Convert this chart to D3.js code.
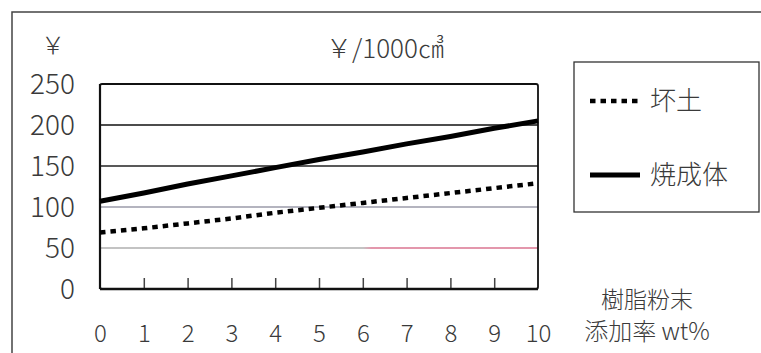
<!DOCTYPE html>
<html><head><meta charset="utf-8">
<script src="https://cdn.jsdelivr.net/npm/d3@7"></script>
<style>
html,body{margin:0;padding:0;background:#fff;}
text{font-family:"Noto Sans CJK JP","Noto Sans",sans-serif;fill:#3a3a3a;font-weight:300;}
</style></head>
<body><svg id="c" width="761" height="353"></svg>
<script>
const xValues = [0,1,2,3,4,5,6,7,8,9,10];
const kaido = [69,74,80,86,93,99,105,111,117,123,129];      // 坏土
const shoseitai = [107,117,128,138,148,158,167,177,186,196,205]; // 焼成体
const yTicks = [0,50,100,150,200,250];
const seriesNames = ["坏土","焼成体"];
const titleText = "￥/1000㎤";
const yUnit = "￥";
const xLabel1 = "樹脂粉末";
const xLabel2 = "添加率 wt%";

const svg = d3.select("#c");
const x = d3.scaleLinear().domain([0,10]).range([100,538]);
const y = d3.scaleLinear().domain([0,250]).range([289,84]);

// outer frame
svg.append("path").attr("d","M12,353 L12,12 L761,12").attr("fill","none").attr("stroke","#444").attr("stroke-width",1.5);

// gradient for 50 line
const defs = svg.append("defs");
const g50 = defs.append("linearGradient").attr("id","g50").attr("gradientUnits","userSpaceOnUse")
  .attr("x1",x(0)).attr("x2",x(10)).attr("y1",0).attr("y2",0);
g50.append("stop").attr("offset","0.6").attr("stop-color","#888");
g50.append("stop").attr("offset","0.62").attr("stop-color","#c8305a");

// gridlines
const gridStyle = {50:{c:"url(#g50)",w:1.2},100:{c:"#6a6a80",w:1.2},150:{c:"#222",w:1.4},200:{c:"#111",w:1.5}};
svg.append("g").selectAll("line").data(yTicks.filter(d=>d>0&&d<250)).join("line")
  .attr("x1",x(0)).attr("x2",x(10)).attr("y1",d=>y(d)).attr("y2",d=>y(d))
  .attr("stroke",d=>gridStyle[d].c).attr("stroke-width",d=>gridStyle[d].w);

// inner ticks
svg.append("g").attr("transform",`translate(0,${y(0)})`)
  .call(d3.axisBottom(x).tickValues(xValues.slice(1,10)).tickSize(-11).tickFormat(""))
  .call(g=>g.select(".domain").remove())
  .call(g=>g.selectAll("line").attr("stroke","#444").attr("stroke-width",1.5));

// plot box
svg.append("rect").attr("x",x(0)).attr("y",y(250)).attr("width",x(10)-x(0)).attr("height",y(0)-y(250))
  .attr("rx",2).attr("fill","none").attr("stroke","#111").attr("stroke-width",1.8);
svg.append("line").attr("x1",x(0)).attr("x2",x(10)).attr("y1",y(0)).attr("y2",y(0)).attr("stroke","#111").attr("stroke-width",2.6);
svg.append("line").attr("x1",x(0)).attr("x2",x(0)).attr("y1",y(250)).attr("y2",y(0)).attr("stroke","#111").attr("stroke-width",2.2);

// y axis labels
svg.append("g").attr("transform",`translate(${x(0)},0)`)
  .call(d3.axisLeft(y).tickValues(yTicks).tickSize(0).tickPadding(25))
  .call(g=>g.select(".domain").remove())
  .call(g=>g.selectAll("text").attr("font-size",28).attr("font-family",'"Noto Sans CJK JP",sans-serif').attr("font-weight",300).attr("fill","#3a3a3a").attr("dy","0.35em"));

// x axis labels
svg.append("g").attr("transform",`translate(0,${y(0)})`)
  .call(d3.axisBottom(x).tickValues(xValues).tickSize(0).tickPadding(0))
  .call(g=>g.select(".domain").remove())
  .call(g=>g.selectAll("text").attr("y",45).attr("dy","0.35em").attr("font-size",24).attr("font-family",'"Noto Sans CJK JP",sans-serif').attr("font-weight",300).attr("fill","#3a3a3a"));

// lines
const line = d3.line().x((d,i)=>x(xValues[i])).y(d=>y(d));
svg.append("path").datum(kaido).attr("d",line).attr("fill","none").attr("stroke","#000")
  .attr("stroke-width",4.5).attr("stroke-dasharray","5.5,5");
svg.append("path").datum(shoseitai).attr("d",line).attr("fill","none").attr("stroke","#000")
  .attr("stroke-width",5);

// texts
svg.append("text").attr("x",53).attr("y",46).attr("dy","0.35em").attr("text-anchor","middle").attr("font-size",24).text(yUnit);
svg.append("text").attr("x",385).attr("y",49).attr("dy","0.35em").attr("text-anchor","middle").attr("font-size",26).text(titleText);
svg.append("text").attr("x",647).attr("y",300).attr("dy","0.35em").attr("text-anchor","middle").attr("font-size",23).text(xLabel1);
svg.append("text").attr("x",647).attr("y",332).attr("dy","0.35em").attr("text-anchor","middle").attr("font-size",24).text(xLabel2);

// legend
svg.append("rect").attr("x",574).attr("y",62).attr("width",185).attr("height",150).attr("fill","#fff").attr("stroke","#333").attr("stroke-width",1.3);
const leg = svg.append("g");
const legY = [101,175];
leg.selectAll("line").data(seriesNames).join("line")
  .attr("x1",590).attr("x2",640).attr("y1",(d,i)=>legY[i]).attr("y2",(d,i)=>legY[i])
  .attr("stroke","#000").attr("stroke-width",(d,i)=>i===0?4.5:5)
  .attr("stroke-dasharray",(d,i)=>i===0?"5.5,5":null);
leg.selectAll("text").data(seriesNames).join("text")
  .attr("x",650).attr("y",(d,i)=>legY[i]).attr("dy","0.35em").attr("font-size",26).text(d=>d);
</script></body></html>
